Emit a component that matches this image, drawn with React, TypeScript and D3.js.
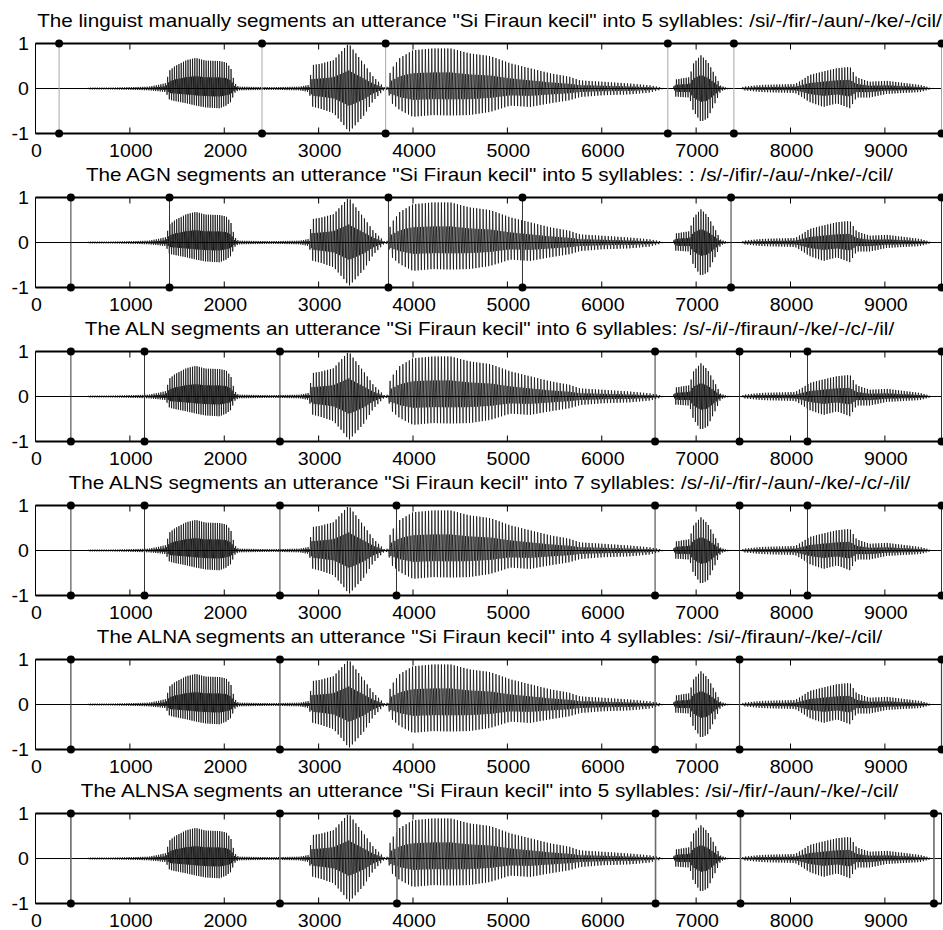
import React from 'react';
import * as d3 from 'd3';

// titles of the six panels
const titles = [
  'The linguist manually segments an utterance "Si Firaun kecil" into 5 syllables: /si/-/fir/-/aun/-/ke/-/cil/',
  'The AGN segments an utterance "Si Firaun kecil" into 5 syllables: : /s/-/ifir/-/au/-/nke/-/cil/',
  'The ALN segments an utterance "Si Firaun kecil" into 6 syllables: /s/-/i/-/firaun/-/ke/-/c/-/il/',
  'The ALNS segments an utterance "Si Firaun kecil" into 7 syllables: /s/-/i/-/fir/-/aun/-/ke/-/c/-/il/',
  'The ALNA segments an utterance "Si Firaun kecil" into 4 syllables: /si/-/firaun/-/ke/-/cil/',
  'The ALNSA segments an utterance "Si Firaun kecil" into 5 syllables: /si/-/fir/-/aun/-/ke/-/cil/',
];

// syllable boundaries (sample index) per panel
const bounds1 = [250, 2400, 3710, 6700, 7400, 9600];
const bounds2 = [375, 1420, 3740, 5160, 7370, 9600];
const bounds3 = [375, 1155, 2590, 6565, 7460, 8180, 9600];
const bounds4 = [375, 1155, 2590, 3825, 6565, 7460, 8180, 9600];
const bounds5 = [375, 2590, 6565, 7460, 9600];
const bounds6 = [375, 2590, 3830, 6570, 7470, 9520];
const allBounds = [bounds1, bounds2, bounds3, bounds4, bounds5, bounds6];

// waveform envelope
const envSample = [
  0, 560, 800, 1000, 1200, 1300, 1380, 1420, 1480, 1600, 1700, 1800, 1950, 2020, 2070, 2110, 2150,
  2500, 2800, 2900, 2930, 3020, 3160, 3270, 3320, 3370, 3480, 3580, 3660, 3700, 3740, 3760, 3860,
  4000, 4210, 4400, 4600, 4820, 5030, 5240, 5450, 5660, 5770, 6010, 6300, 6510, 6620, 6660, 6760,
  6780, 6930, 6970, 7050, 7120, 7200, 7260, 7320, 7380, 7480, 7500, 7700, 8050, 8130, 8200, 8350,
  8490, 8630, 8700, 8840, 9020, 9370, 9480, 9500,
];
const envUp = [
  0, 0.02, 0.02, 0.03, 0.04, 0.08, 0.12, 0.4, 0.5, 0.63, 0.68, 0.62, 0.61, 0.58, 0.45, 0.12, 0.04,
  0.03, 0.04, 0.08, 0.52, 0.55, 0.63, 0.89, 1.0, 0.85, 0.55, 0.26, 0.1, 0.02, 0.05, 0.4, 0.68,
  0.85, 0.89, 0.89, 0.78, 0.72, 0.56, 0.45, 0.34, 0.26, 0.18, 0.15, 0.11, 0.07, 0.03, 0, 0,
  0.2, 0.25, 0.55, 0.74, 0.6, 0.3, 0.06, 0.02, 0, 0, 0.04, 0.08, 0.1, 0.2, 0.3, 0.38,
  0.45, 0.48, 0.25, 0.15, 0.17, 0.08, 0.02, 0,
];
const envLo = [
  0, -0.02, -0.02, -0.03, -0.04, -0.06, -0.08, -0.25, -0.28, -0.33, -0.38, -0.42, -0.44, -0.38, -0.3, -0.1, -0.04,
  -0.03, -0.04, -0.08, -0.4, -0.45, -0.55, -0.82, -0.97, -0.86, -0.6, -0.27, -0.1, -0.02, -0.05, -0.3, -0.48,
  -0.63, -0.59, -0.6, -0.59, -0.52, -0.38, -0.41, -0.33, -0.26, -0.19, -0.15, -0.13, -0.09, -0.03, 0, 0,
  -0.18, -0.2, -0.5, -0.74, -0.67, -0.33, -0.06, -0.02, 0, 0, -0.04, -0.08, -0.1, -0.2, -0.3, -0.41,
  -0.33, -0.44, -0.2, -0.2, -0.12, -0.08, -0.02, 0,
];
// pitch period (samples) by region
const periodStart = [0, 2900, 3740, 6700, 7480];
const periodLen = [24, 30, 34, 26, 30];

const xTicks = [0, 1000, 2000, 3000, 4000, 5000, 6000, 7000, 8000, 9000];
const yTicks = [-1, 0, 1];

const font = '"Liberation Sans", Arial, sans-serif';
const lineColor = ['#a8a8a8', '#333', '#333', '#333', '#444', '#6a6a6a'];
const lineWidth = [1, 1, 1, 1, 1.2, 1.6];

const upScale = d3.scaleLinear().domain(envSample).range(envUp).clamp(true);
const loScale = d3.scaleLinear().domain(envSample).range(envLo).clamp(true);

function buildWave(): [number, number][] {
  const pts: [number, number][] = [];
  let t = 560;
  let k = 0;
  while (t <= 9480) {
    const idx = d3.bisectRight(periodStart, t) - 1;
    const p = periodLen[idx];
    const u = upScale(t);
    const l = loScale(t);
    const v = k % 4 === 0 ? u : k % 4 === 1 ? l * 0.4 : k % 4 === 2 ? u * 0.4 : l;
    pts.push([t, v]);
    t += p / 4;
    k++;
  }
  return pts;
}

const wave = buildWave();

export default function App() {
  const W = 943;
  const H = 930;
  const x = d3.scaleLinear().domain([0, 9600]).range([35.5, 941.5]);
  const [x0, x1] = x.range();

  return (
    <svg width={W} height={H} style={{ position: 'absolute', left: 0, top: 0, background: '#fff' }}>
      <rect width={W} height={H} fill="#fff" />
      {titles.map((title, i) => {
        const top = 43.5 + i * 154;
        const y = d3.scaleLinear().domain([-1, 1]).range([top + 90, top]);
        const line = d3
          .line<[number, number]>()
          .x((d) => x(d[0]))
          .y((d) => y(d[1]));
        const clipId = `clip${i}`;
        return (
          <g key={i}>
            <defs>
              <clipPath id={clipId}>
                <rect x={x0} y={top} width={x1 - x0} height={90} />
              </clipPath>
            </defs>
            <g transform={`translate(${(x0 + x1) / 2 + 1},${top - 17}) scale(1.18,1)`}>
              <text textAnchor="middle" fontFamily={font} fontSize={17.5} fill="#000">
                {title}
              </text>
            </g>
            <g clipPath={`url(#${clipId})`}>
              <line x1={x0} x2={x1} y1={y(0)} y2={y(0)} stroke="#000" strokeWidth={1} />
              <path d={line(wave) || ''} fill="none" stroke="#000" strokeWidth={0.7} />
            </g>
            {/* ticks inside the box */}
            {xTicks.slice(1).map((t) => (
              <g key={t}>
                <line x1={x(t)} x2={x(t)} y1={top} y2={top + 6} stroke="#000" strokeWidth={1} />
                <line x1={x(t)} x2={x(t)} y1={top + 90} y2={top + 84} stroke="#000" strokeWidth={1} />
              </g>
            ))}
            {yTicks.map((t) => (
              <g key={t}>
                <line x1={x0} x2={x0 + 6} y1={y(t)} y2={y(t)} stroke="#000" strokeWidth={1} />
                <line x1={x1} x2={x1 - 6} y1={y(t)} y2={y(t)} stroke="#000" strokeWidth={1} />
              </g>
            ))}
            {/* box */}
            <line x1={x0} x2={x0} y1={top} y2={top + 90} stroke="#000" strokeWidth={1} />
            <line x1={x1} x2={x1} y1={top} y2={top + 90} stroke="#000" strokeWidth={1} />
            <line x1={x0} x2={x1} y1={top} y2={top} stroke="#000" strokeWidth={1.8} />
            <line x1={x0} x2={x1} y1={top + 90} y2={top + 90} stroke="#000" strokeWidth={1.8} />
            {/* segment boundaries */}
            {allBounds[i].map((b) => (
              <g key={b}>
                <line x1={x(b)} x2={x(b)} y1={y(1)} y2={y(-1)} stroke={lineColor[i]} strokeWidth={lineWidth[i]} />
                <circle cx={x(b)} cy={y(1)} r={4} fill="#000" />
                <circle cx={x(b)} cy={y(-1)} r={4} fill="#000" />
              </g>
            ))}
            {/* tick labels */}
            {yTicks.map((t) => (
              <g key={t} transform={`translate(29,${y(t)}) scale(1.12,1)`}>
                <text dy="0.35em" textAnchor="end" fontFamily={font} fontSize={17.5} fill="#000">
                  {t}
                </text>
              </g>
            ))}
            {xTicks.map((t) => (
              <g key={t} transform={`translate(${x(t) + 1},${top + 113.5}) scale(1.12,1)`}>
                <text textAnchor="middle" fontFamily={font} fontSize={17.5} fill="#000">
                  {t}
                </text>
              </g>
            ))}
          </g>
        );
      })}
    </svg>
  );
}
